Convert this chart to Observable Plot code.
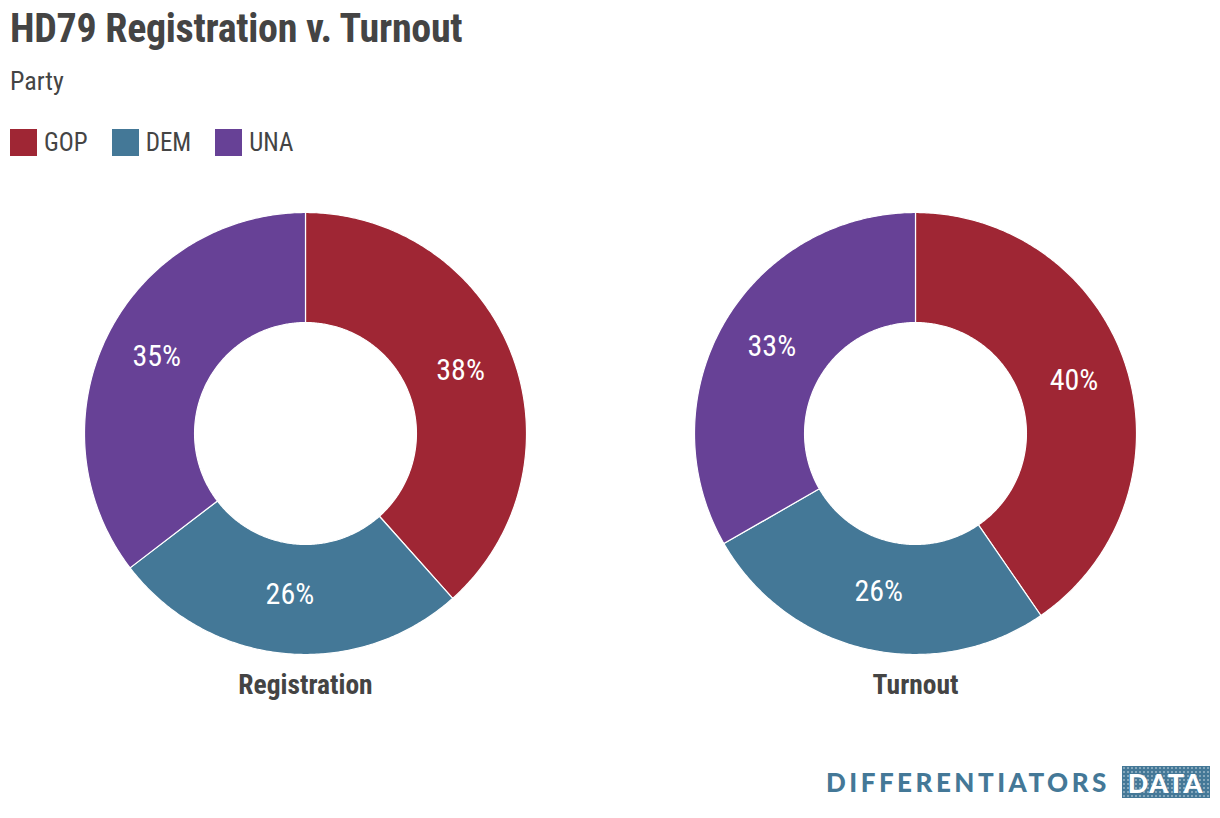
<!DOCTYPE html>
<html>
<head>
<meta charset="utf-8">
<script src="https://cdn.jsdelivr.net/npm/d3@7"></script>
<script src="https://cdn.jsdelivr.net/npm/@observablehq/plot@0.6"></script>
<style>
  html, body { margin: 0; padding: 0; background: #fff; }
  #page { position: relative; width: 1220px; height: 818px; overflow: hidden;
          font-family: "Liberation Sans Narrow", "Roboto Condensed", "DejaVu Sans Condensed", sans-serif; color: #444; }
  #title { position: absolute; left: 10px; top: 5px; font-size: 40px; font-weight: bold; letter-spacing: -0.3px; white-space: nowrap; }
  #subtitle { position: absolute; left: 10px; top: 66px; font-size: 26px; }
  #legend { position: absolute; left: 10px; top: 128px; display: flex; align-items: center; }
  .item { display: flex; align-items: center; margin-right: 24px; font-size: 25px; }
  .sw { width: 27px; height: 27px; margin-right: 7px; }
  #chart { position: absolute; left: 0; top: 170px; }
  #logo { position: absolute; left: 826px; top: 766px; display: flex; align-items: center;
          font-family: Lato, "Open Sans", sans-serif; font-weight: 900; color: #447897; }
  #logo .name { font-size: 26px; letter-spacing: 3.5px; }
  #logo .box { margin-left: 12px; width: 88px; height: 32px; background-color: #447897;
               background-image: radial-gradient(rgba(255,255,255,0.35) 1px, transparent 1.3px);
               background-size: 4px 4px;
               color: #fff; font-size: 27px; letter-spacing: 1.5px; display: flex; align-items: center; justify-content: center; }
  #chart [aria-label="fx-axis tick label"] text { font-weight: bold; }
</style>
</head>
<body>
<div id="page">
  <div id="title"></div>
  <div id="subtitle"></div>
  <div id="legend"></div>
  <div id="chart"></div>
  <div id="logo"><span class="name">DIFFERENTIATORS</span><span class="box">DATA</span></div>
</div>
<script>
// ---- data ----
const titleText = "HD79 Registration v. Turnout";
const subtitleText = "Party";
const parties = ["GOP", "DEM", "UNA"];
const partyColors = ["#9f2634", "#447897", "#674196"];
const charts = ["Registration", "Turnout"];
const registration = [38.4, 26.2, 35.4];
const turnout = [40.4, 26.3, 33.3];

// ---- header ----
document.getElementById("title").textContent = titleText;
document.getElementById("subtitle").textContent = subtitleText;
const legend = document.getElementById("legend");
parties.forEach((p, i) => {
  const it = document.createElement("div");
  it.className = "item";
  const sw = document.createElement("span");
  sw.className = "sw";
  sw.style.background = partyColors[i];
  const lb = document.createElement("span");
  lb.textContent = p;
  it.appendChild(sw); it.appendChild(lb);
  legend.appendChild(it);
});

// ---- geometry from data ----
const innerR = 0.502, outerR = 1;
const series = {Registration: registration, Turnout: turnout};
const pie = d3.pie().sort(null).value(d => d.value);
const polys = [];
const labels = [];
for (const c of charts) {
  const rows = parties.map((p, i) => ({party: p, value: series[c][i]}));
  const total = d3.sum(rows, d => d.value);
  for (const a of pie(rows)) {
    const key = c + "-" + a.data.party;
    const n = Math.max(2, Math.ceil((a.endAngle - a.startAngle) / 0.01));
    const pts = [];
    for (let k = 0; k <= n; k++) {
      const t = a.startAngle + (a.endAngle - a.startAngle) * k / n;
      pts.push([outerR * Math.sin(t), outerR * Math.cos(t)]);
    }
    for (let k = n; k >= 0; k--) {
      const t = a.startAngle + (a.endAngle - a.startAngle) * k / n;
      pts.push([innerR * Math.sin(t), innerR * Math.cos(t)]);
    }
    pts.push(pts[0]);
    for (const [x, y] of pts) polys.push({chart: c, key, party: a.data.party, x, y});
    const mid = (a.startAngle + a.endAngle) / 2, rm = (innerR + outerR) / 2;
    labels.push({chart: c, party: a.data.party, x: rm * Math.sin(mid), y: rm * Math.cos(mid),
                 text: Math.round(a.data.value / total * 100) + "%"});
  }
}

const W = 1220, H = 560;
const unitPx = 221;
const xHalf = (W / charts.length) / 2 / unitPx;
const mTop = 30, mBottom = 64;
const yHalf = (H - mTop - mBottom) / 2 / unitPx;

const plot = Plot.plot({
  width: W,
  height: H,
  marginLeft: 0, marginRight: 0, marginTop: mTop, marginBottom: mBottom,
  style: {fontFamily: '"Liberation Sans Narrow", "Roboto Condensed", "DejaVu Sans Condensed", sans-serif', color: "#444", background: "transparent"},
  fx: {domain: charts, padding: 0, label: null},
  x: {domain: [-xHalf, xHalf], axis: null},
  y: {domain: [-yHalf, yHalf], axis: null},
  color: {domain: parties, range: partyColors},
  marks: [
    Plot.line(polys, {fx: "chart", x: "x", y: "y", z: "key", fill: "party", stroke: "white", strokeWidth: 1.2, curve: "linear"}),
    Plot.text(labels, {fx: "chart", x: "x", y: "y", text: "text", fill: "white", fontSize: 30, dy: -4}),
    Plot.axisFx({anchor: "bottom", label: null, tickSize: 0, tickPadding: 8, fontSize: 27.5, fontWeight: "bold", fill: "#444"})
  ]
});
document.getElementById("chart").appendChild(plot);
</script>
</body>
</html>
